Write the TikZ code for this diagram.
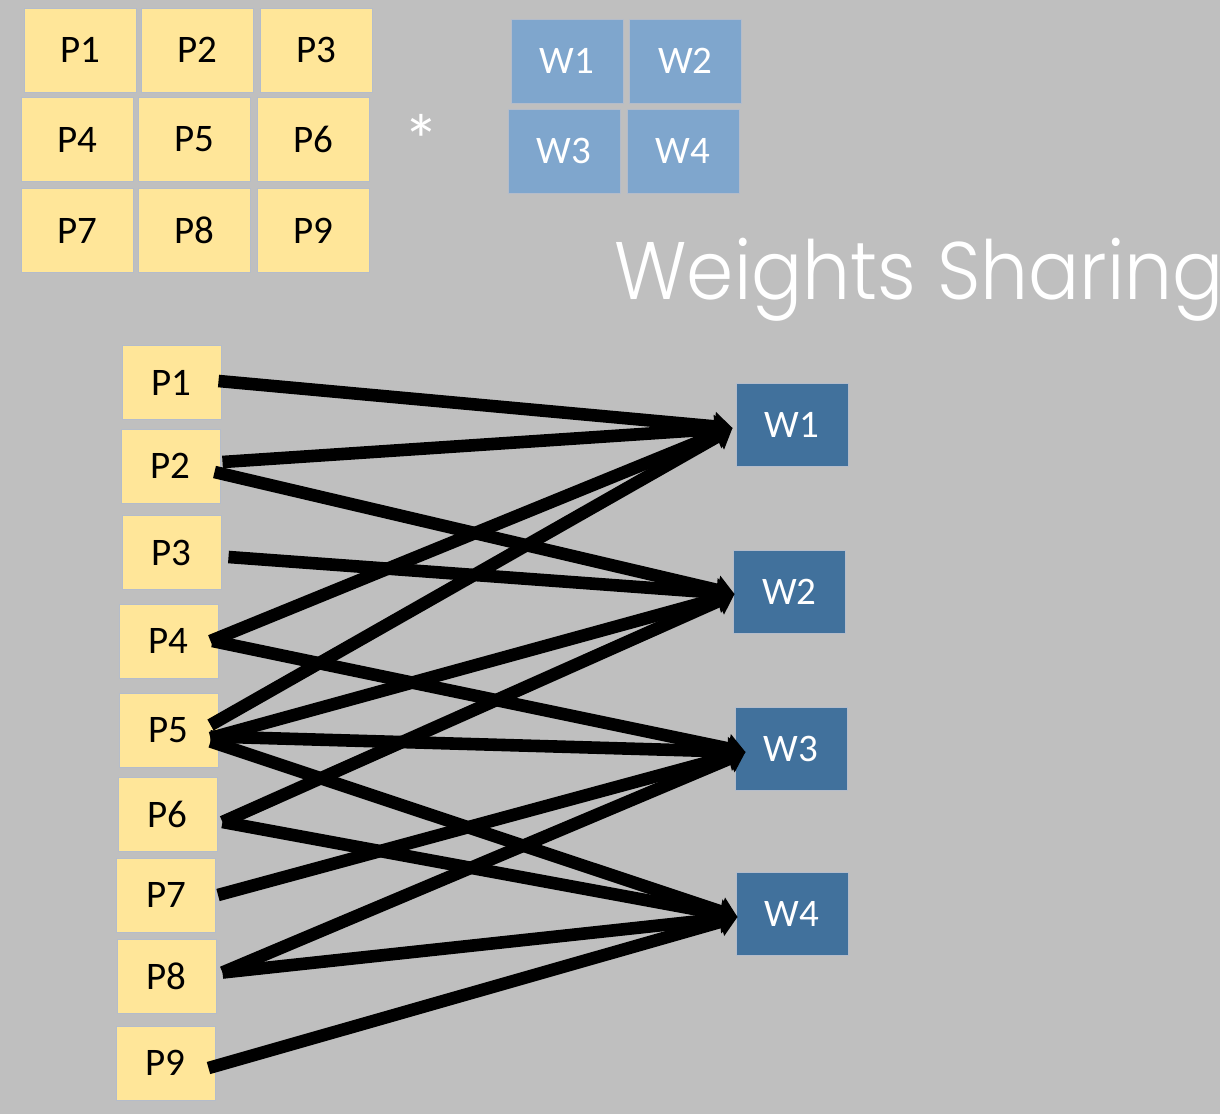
\documentclass[tikz,border=0pt]{standalone}
\usepackage{fontspec}
\setmainfont{Carlito}
\IfFontExistsTF{Poppins Light}{\newfontfamily\titlefont{Poppins Light}[FakeStretch=0.93]}{\newfontfamily\titlefont{Poppins}[FakeStretch=0.93]}
\usetikzlibrary{arrows.meta}
\definecolor{bg}{HTML}{BFBFBF}
\definecolor{pyellow}{HTML}{FFE699}
\definecolor{wlight}{HTML}{7FA6CD}
\definecolor{wdark}{HTML}{41719C}
\definecolor{edge}{HTML}{B4BCCA}
\tikzset{
  lbl/.style={font=\fontsize{19.5}{20}\selectfont, inner sep=0pt},
  pbig/.style={lbl, fill=pyellow, draw=edge, line width=0.5pt, minimum width=56pt, minimum height=42pt, text=black},
  wbig/.style={lbl, fill=wlight, draw=edge, line width=0.5pt, minimum width=56pt, minimum height=42pt, text=white},
  psmall/.style={lbl, fill=pyellow, draw=edge, line width=0.5pt, minimum width=49.5pt, minimum height=37pt, text=black},
  wsmall/.style={lbl, fill=wdark, draw=edge, line width=0.5pt, minimum width=56pt, minimum height=41.5pt, text=white},
  conn/.style={line width=6.3pt, black, -{Triangle[length=9pt,width=14pt]}},
}
\begin{document}
\begin{tikzpicture}[x=0.5pt,y=-0.5pt]
\fill[bg] (0,0) rectangle (1220,1114);
\useasboundingbox (0,0) rectangle (1220,1114);
% top input grid
\node[pbig] (tP1) at (80,50) {P1};
\node[pbig] (tP2) at (197.5,50) {P2};
\node[pbig] (tP3) at (316,50) {P3};
\node[pbig] (tP4) at (77.5,139.5) {P4};
\node[pbig] (tP5) at (194.5,139.5) {P5};
\node[pbig] (tP6) at (313.5,139.5) {P6};
\node[pbig] (tP7) at (77.5,230.5) {P7};
\node[pbig] (tP8) at (194.5,230.5) {P8};
\node[pbig] (tP9) at (313.5,230.5) {P9};
% operator
\node[inner sep=0pt, text=white, anchor=base, font=\fontsize{36}{36}\selectfont] (star) at (421,165) {*};
% top weights grid
\node[wbig] (tW1) at (567,61) {W1};
\node[wbig] (tW2) at (685.5,61) {W2};
\node[wbig] (tW3) at (564,151) {W3};
\node[wbig] (tW4) at (683,151) {W4};
% title
\node[anchor=base west, inner sep=0pt, text=white, font=\titlefont\fontsize{40.8}{42}\selectfont] (title) at (614,299) {Weights Sharing};
% bottom inputs
\node[psmall] (bP1) at (171.5,382.5) {P1};
\node[psmall] (bP2) at (170.5,466) {P2};
\node[psmall] (bP3) at (171.5,552.5) {P3};
\node[psmall] (bP4) at (168.5,641) {P4};
\node[psmall] (bP5) at (168.5,730.5) {P5};
\node[psmall] (bP6) at (167.5,814) {P6};
\node[psmall] (bP7) at (166,895) {P7};
\node[psmall] (bP8) at (166.5,976.5) {P8};
\node[psmall] (bP9) at (165.5,1063) {P9};
% bottom weights
\node[wsmall] (bW1) at (792,425) {W1};
\node[wsmall] (bW2) at (789.5,591.5) {W2};
\node[wsmall] (bW3) at (791,748.5) {W3};
\node[wsmall] (bW4) at (792,914) {W4};
% connectors
\draw[conn] ([shift={(-3,-1.5)}]bP1.east) -- ([shift={(-3,3)}]bW1.west);
\draw[conn] ([shift={(2,-4)}]bP2.east) -- ([shift={(-3,3)}]bW1.west);
\draw[conn] ([shift={(-6,6)}]bP2.east) -- ([shift={(1.5,2.5)}]bW2.west);
\draw[conn] ([shift={(7,4.5)}]bP3.east) -- ([shift={(1.5,2.5)}]bW2.west);
\draw[conn] ([shift={(-8,0)}]bP4.east) -- ([shift={(-3,3)}]bW1.west);
\draw[conn] ([shift={(-6,0)}]bP4.east) -- ([shift={(11,3.5)}]bW3.west);
\draw[conn] ([shift={(-8,-5.5)}]bP5.east) -- ([shift={(-3,3)}]bW1.west);
\draw[conn] ([shift={(-8,7.5)}]bP5.east) -- ([shift={(1.5,2.5)}]bW2.west);
\draw[conn] ([shift={(-8,6)}]bP5.east) -- ([shift={(11,3.5)}]bW3.west);
\draw[conn] ([shift={(-8,11)}]bP5.east) -- ([shift={(2,3)}]bW4.west);
\draw[conn] ([shift={(5,8)}]bP6.east) -- ([shift={(1.5,2.5)}]bW2.west);
\draw[conn] ([shift={(5,8)}]bP6.east) -- ([shift={(2,3)}]bW4.west);
\draw[conn] ([shift={(2,0)}]bP7.east) -- ([shift={(11,3.5)}]bW3.west);
\draw[conn] ([shift={(6,-4)}]bP8.east) -- ([shift={(11,3.5)}]bW3.west);
\draw[conn] ([shift={(6,-4)}]bP8.east) -- ([shift={(2,3)}]bW4.west);
\draw[conn] ([shift={(-7,5)}]bP9.east) -- ([shift={(2,3)}]bW4.west);
\end{tikzpicture}
\end{document}
